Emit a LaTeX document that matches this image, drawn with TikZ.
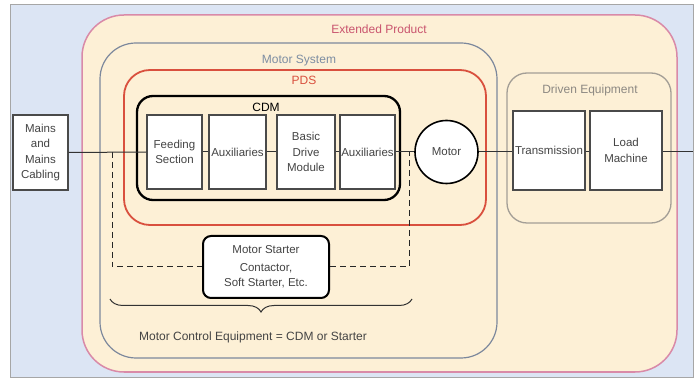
\documentclass[tikz,border=0pt]{standalone}
\usepackage{fontspec}
\setmainfont{Liberation Sans}
\usetikzlibrary{decorations.pathreplacing}
\definecolor{bgblue}{HTML}{DCE5F4}
\definecolor{cream}{HTML}{FDF0D6}
\definecolor{extpink}{HTML}{D98AA8}
\definecolor{exttext}{HTML}{C9546E}
\definecolor{msgray}{HTML}{7C889C}
\definecolor{mstext}{HTML}{7D8DA2}
\definecolor{pdsred}{HTML}{D9503E}
\definecolor{degray}{HTML}{A39E96}
\definecolor{detext}{HTML}{8C8882}
\definecolor{boxline}{HTML}{4A4A4A}
\definecolor{txt}{HTML}{444444}
\tikzset{
  blockbox/.style={draw=boxline, line width=1.1pt, fill=white, text=txt,
    inner sep=0pt, align=center, font=\fontsize{11.5}{15.5}\selectfont},
  grouplabel/.style={font=\fontsize{12}{14}\selectfont},
  wire/.style={draw=black!80, line width=1pt},
  dashwire/.style={draw=black!85, line width=1pt, dash pattern=on 6pt off 4pt}
}
\begin{document}
\begin{tikzpicture}[x=1pt,y=-1pt]
\useasboundingbox (0,0) rectangle (699,379);
% page background
\fill[white] (0,0) rectangle (699,379);
\draw[fill=bgblue, draw=gray!70, line width=0.8pt] (10,4) rectangle (693,377);

% nested scopes
\draw[fill=cream, draw=extpink, line width=1.5pt, rounded corners=42pt]
  (82,15) rectangle (677,372);
\node[grouplabel, text=exttext] (extlbl) at (379,29) {Extended Product};

\draw[draw=msgray, line width=1.2pt, rounded corners=36pt]
  (100,43) rectangle (497,358);
\node[grouplabel, text=mstext] (mslbl) at (299,61) {Motor System};

\draw[draw=pdsred, line width=1.8pt, rounded corners=26pt]
  (124,70) rectangle (486,225);
\node[grouplabel, text=pdsred] (pdslbl) at (304,80) {PDS};

\draw[draw=black, line width=2.3pt, rounded corners=16pt]
  (137,96) rectangle (400,200);
\node[grouplabel, text=black] (cdmlbl) at (266,107) {CDM};

\draw[draw=degray, line width=1.3pt, rounded corners=20pt]
  (507,73) rectangle (671,223);
\node[grouplabel, text=detext] (delbl) at (590,90) {Driven Equipment};

% dashed starter bypass
\coordinate (tapL) at (112,152);
\coordinate (tapR) at (409,152);
\coordinate (cornL) at (112,267);
\coordinate (cornR) at (409,267);
\node[draw=black, line width=2pt, rounded corners=8pt, fill=white, text=txt,
  minimum width=126pt, minimum height=62pt, align=center, inner sep=0pt,
  font=\fontsize{11.5}{18}\selectfont] (starter) at (266,267)
  {Motor Starter\\Contactor,\\[-3pt]Soft Starter, Etc.};
\draw[dashwire] (tapL) -- (cornL) -- (starter.west);
\draw[dashwire] (starter.east) -- (cornR) -- (tapR);

% blocks
\node[blockbox, minimum width=55pt, minimum height=75pt] (mains) at (40.5,152.5)
  {Mains\\and\\Mains\\Cabling};
\node[blockbox, minimum width=55pt, minimum height=74pt] (feed) at (174.5,152)
  {Feeding\\Section};
\node[blockbox, minimum width=57pt, minimum height=74pt] (aux1) at (237.5,152)
  {Auxiliaries};
\node[blockbox, minimum width=58pt, minimum height=74pt] (bdm) at (306,152)
  {Basic\\Drive\\Module};
\node[blockbox, minimum width=55pt, minimum height=74pt] (aux2) at (367.5,152)
  {Auxiliaries};
\node[blockbox, circle, draw=black, line width=1.6pt, minimum size=63pt] (motor)
  at (446.5,152) {Motor};
\node[blockbox, minimum width=72pt, minimum height=79pt] (trans) at (549,150.5)
  {Transmission};
\node[blockbox, minimum width=72pt, minimum height=79pt] (load) at (626,150.5)
  {Load\\Machine};
\coordinate (shaftend) at (693,152);

% power path
\draw[wire] (mains.east) -- (feed.west);
\draw[wire] (feed.east) -- (aux1.west);
\draw[wire] (aux1.east) -- (bdm.west);
\draw[wire] (bdm.east) -- (aux2.west);
\draw[wire] (aux2.east) -- (motor.west);
\draw[wire] (motor.east) -- (trans.west |- motor.east);
\draw[wire] (trans.east |- motor.east) -- (load.west |- motor.east);
\draw[wire] (load.east |- motor.east) -- (shaftend);

% control equipment brace
\coordinate (brL) at (110,299);
\coordinate (brR) at (412,299);
\draw[draw=black!80, line width=1pt,
  decorate, decoration={brace, mirror, amplitude=13pt}] (brL) -- (brR);
\node[grouplabel, text=txt] (mcelbl) at (253,337)
  {Motor Control Equipment = CDM or Starter};
\end{tikzpicture}
\end{document}
